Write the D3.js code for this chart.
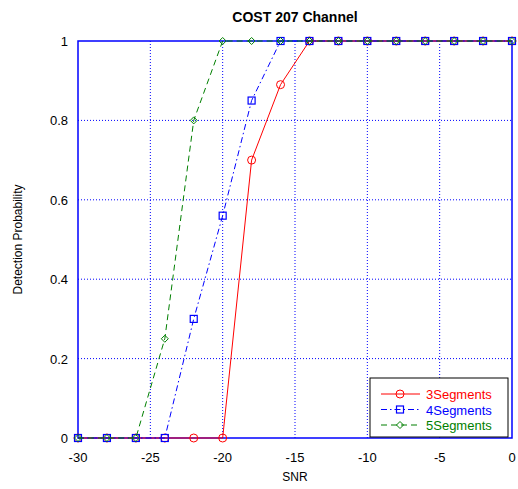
<!DOCTYPE html>
<html>
<head>
<meta charset="utf-8">
<script src="https://cdn.jsdelivr.net/npm/d3@7"></script>
<style>
body { margin: 0; background: #fff; }
text { font-family: "Liberation Sans", Arial, sans-serif; }
</style>
</head>
<body>
<div id="chart"></div>
<script>
var width = 518, height = 489;
var margin = {top: 41, right: 6, bottom: 51, left: 78};

var snr = [-30, -28, -26, -24, -22, -20, -18, -16, -14, -12, -10, -8, -6, -4, -2, 0];
var seg3 = [0, 0, 0, 0, 0, 0, 0.70, 0.89, 1, 1, 1, 1, 1, 1, 1, 1];
var seg4 = [0, 0, 0, 0, 0.30, 0.56, 0.85, 1, 1, 1, 1, 1, 1, 1, 1, 1];
var seg5 = [0, 0, 0, 0.25, 0.80, 1, 1, 1, 1, 1, 1, 1, 1, 1, 1, 1];
var seriesNames = ["3Segments", "4Segments", "5Segments"];
var xTicks = [-30, -25, -20, -15, -10, -5, 0];
var yTicks = [0, 0.2, 0.4, 0.6, 0.8, 1];

var series = [
	{name: seriesNames[0], values: seg3, color: "#ff0000", dash: null, marker: "circle"},
	{name: seriesNames[1], values: seg4, color: "#0000ff", dash: "6,3,1.5,3", marker: "square"},
	{name: seriesNames[2], values: seg5, color: "#007f00", dash: "6,4", marker: "diamond"}
];

var svg = d3.select("#chart").append("svg")
	.attr("width", width).attr("height", height);

var x = d3.scaleLinear().domain([-30, 0]).range([margin.left, width - margin.right]);
var y = d3.scaleLinear().domain([0, 1]).range([height - margin.bottom, margin.top]);

// grid
svg.append("g").selectAll("line.vg")
	.data(xTicks.slice(1, -1)).enter().append("line")
	.attr("x1", d => x(d)).attr("x2", d => x(d))
	.attr("y1", y(0)).attr("y2", y(1))
	.attr("stroke", "#0000ff").attr("stroke-width", 1)
	.attr("stroke-dasharray", "1,2");
svg.append("g").selectAll("line.hg")
	.data(yTicks.slice(1, -1)).enter().append("line")
	.attr("x1", x(-30)).attr("x2", x(0))
	.attr("y1", d => y(d)).attr("y2", d => y(d))
	.attr("stroke", "#0000ff").attr("stroke-width", 1)
	.attr("stroke-dasharray", "1,2");

// axes box
svg.append("rect")
	.attr("x", x(-30)).attr("y", y(1))
	.attr("width", x(0) - x(-30)).attr("height", y(0) - y(1))
	.attr("fill", "none").attr("stroke", "#0000ff").attr("stroke-width", 1.5);

// tick labels
svg.append("g").selectAll("text")
	.data(xTicks).enter().append("text")
	.attr("x", d => x(d)).attr("y", y(0) + 24)
	.attr("text-anchor", "middle").attr("font-size", 13)
	.text(d => d);
svg.append("g").selectAll("text")
	.data(yTicks).enter().append("text")
	.attr("x", x(-30) - 10).attr("y", d => y(d) + 5)
	.attr("text-anchor", "end").attr("font-size", 13)
	.text(d => d);

// title and labels
svg.append("text").attr("x", 295).attr("y", 22)
	.attr("text-anchor", "middle").attr("font-size", 14).attr("font-weight", "bold")
	.text("COST 207 Channel");
svg.append("text").attr("x", 295).attr("y", 481)
	.attr("text-anchor", "middle").attr("font-size", 12)
	.text("SNR");
svg.append("text")
	.attr("transform", "translate(22," + ((y(0) + y(1)) / 2) + ") rotate(-90)")
	.attr("text-anchor", "middle").attr("font-size", 12)
	.text("Detection Probability");

function drawMarker(g, type, cx, cy, color) {
	if (type == "circle") {
		g.append("circle").attr("cx", cx).attr("cy", cy).attr("r", 4)
			.attr("fill", "none").attr("stroke", color).attr("stroke-width", 1);
	} else if (type == "square") {
		g.append("rect").attr("x", cx - 3.5).attr("y", cy - 3.5)
			.attr("width", 7).attr("height", 7)
			.attr("fill", "none").attr("stroke", color).attr("stroke-width", 1.2);
	} else {
		g.append("path")
			.attr("d", "M" + cx + "," + (cy - 3.5) + "L" + (cx + 3.5) + "," + cy + "L" + cx + "," + (cy + 3.5) + "L" + (cx - 3.5) + "," + cy + "Z")
			.attr("fill", "none").attr("stroke", color).attr("stroke-width", 1);
	}
}

var line = d3.line().x(d => x(d[0])).y(d => y(d[1]));

series.forEach(function(s) {
	var pts = snr.map((v, i) => [v, s.values[i]]);
	var g = svg.append("g");
	g.append("path").datum(pts)
		.attr("d", line)
		.attr("fill", "none").attr("stroke", s.color).attr("stroke-width", 1)
		.attr("stroke-dasharray", s.dash);
	pts.forEach(function(p) { drawMarker(g, s.marker, x(p[0]), y(p[1]), s.color); });
});

// legend
var lg = svg.append("g");
lg.append("rect").attr("x", 370).attr("y", 378).attr("width", 138).attr("height", 59)
	.attr("fill", "#fff").attr("stroke", "#000").attr("stroke-width", 1);
series.forEach(function(s, i) {
	var ly = 394 + i * 15.5;
	lg.append("line").attr("x1", 381).attr("x2", 420).attr("y1", ly).attr("y2", ly)
		.attr("stroke", s.color).attr("stroke-width", 1)
		.attr("stroke-dasharray", s.dash);
	drawMarker(lg, s.marker, 400, ly, s.color);
	lg.append("text").attr("x", 426).attr("y", ly + 5)
		.attr("font-size", 13).attr("fill", s.color)
		.text(s.name);
});
</script>
</body>
</html>
